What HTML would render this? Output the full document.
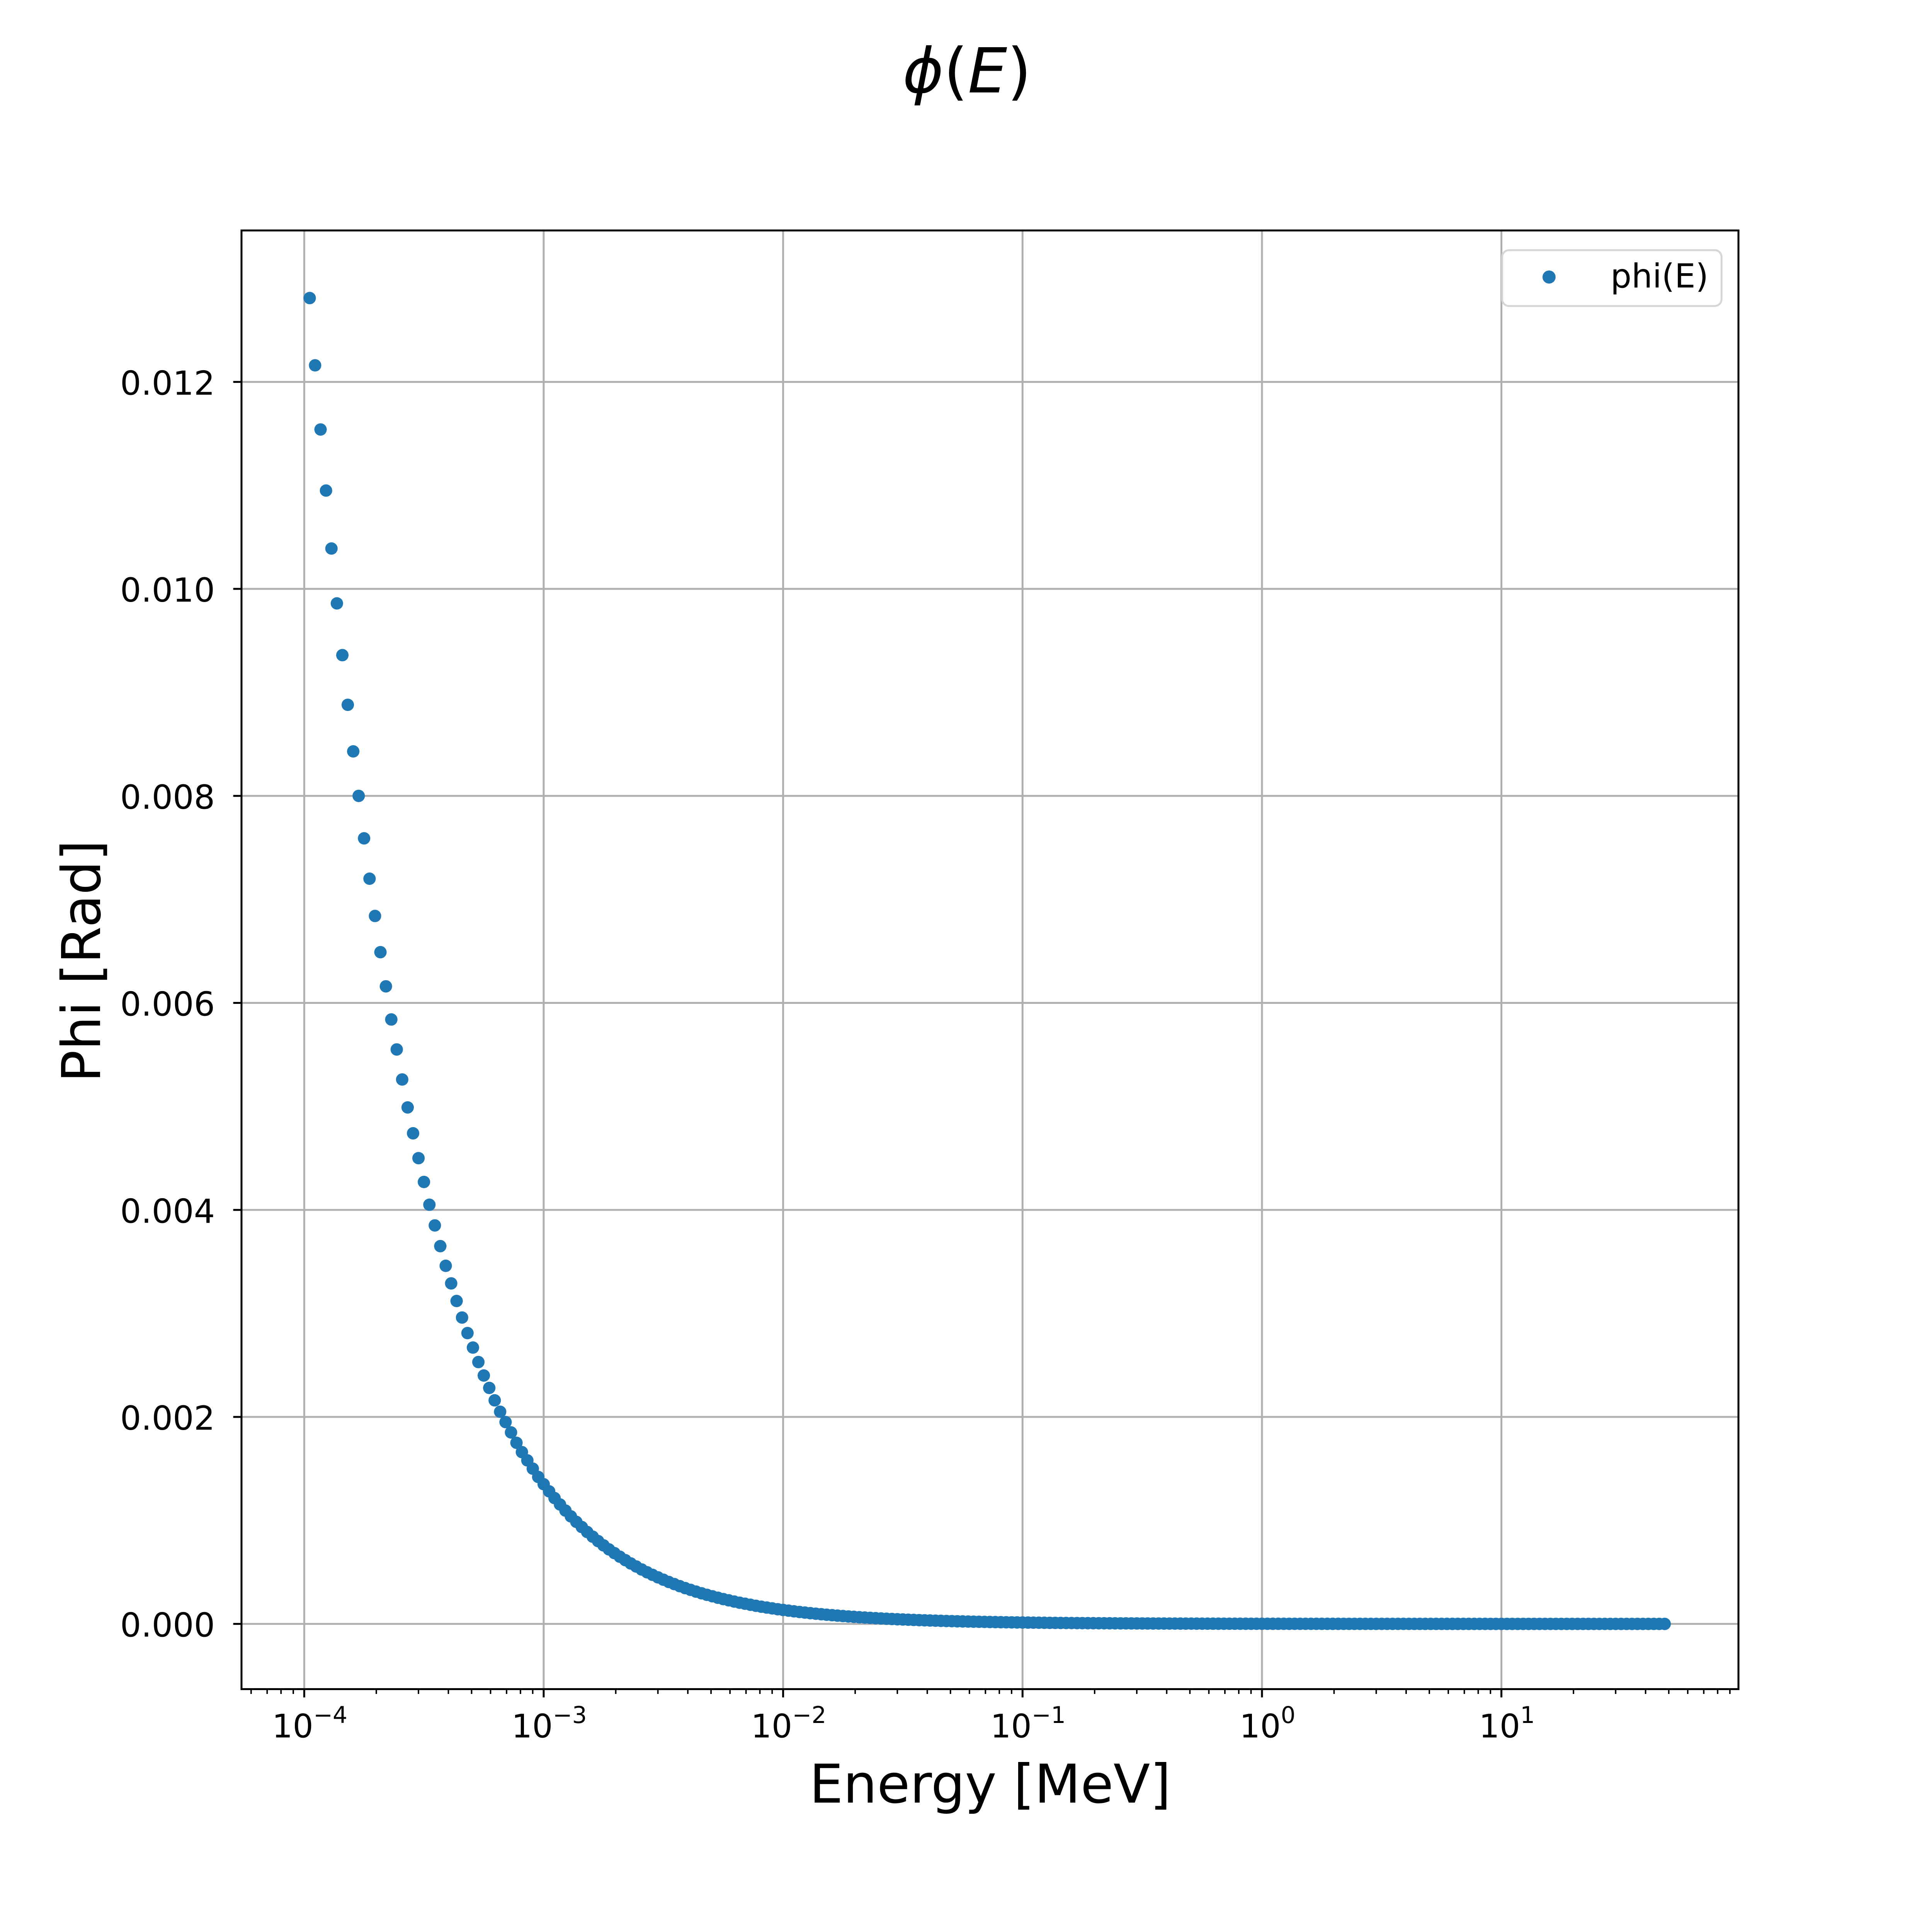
<!DOCTYPE html>
<html><head><meta charset="utf-8">
<style>
html,body{margin:0;padding:0;background:#fff;overflow:hidden;width:100%;height:100%;}
svg{display:block;position:fixed;left:0;top:0;width:100vw;height:100vh;font-family:"DejaVu Sans","Liberation Sans",sans-serif;}
</style></head>
<body>
<svg id="chart" viewBox="0 0 5600 5600" preserveAspectRatio="none" xmlns="http://www.w3.org/2000/svg">
<rect width="5600" height="5600" fill="#fff"/>
<text x="2803" y="268" font-size="180" text-anchor="middle"><tspan font-style="italic">ϕ</tspan>(<tspan font-style="italic">E</tspan>)</text>
<g id="grid"></g>
<g id="points"></g>
<g id="axes"></g>
<text x="2870" y="5225" font-size="155" text-anchor="middle">Energy [MeV]</text>
<text x="0" y="0" font-size="155" text-anchor="middle" transform="translate(290,2786) rotate(-90)">Phi [Rad]</text>
<g>
<rect x="4354" y="725" width="636" height="162" rx="20" fill="#fff" fill-opacity="0.8" stroke="#d6d6d6" stroke-width="5.6"/>
<circle cx="4490" cy="803" r="19" fill="#1f77b4"/>
<text x="4668" y="833" font-size="96">phi(E)</text>
</g>
</svg>
<script>
const energy = [
1.054e-4,1.110e-4,1.170e-4,1.233e-4,1.299e-4,1.369e-4,1.443e-4,1.520e-4,1.602e-4,1.688e-4,1.778e-4,1.874e-4,1.975e-4,2.081e-4,2.193e-4,2.310e-4,2.434e-4,2.565e-4,2.703e-4,2.848e-4,3.001e-4,3.162e-4,3.332e-4,3.511e-4,3.700e-4,3.899e-4,4.108e-4,4.329e-4,4.562e-4,4.806e-4,5.065e-4,5.337e-4,5.623e-4,5.926e-4,6.244e-4,6.579e-4,6.933e-4,7.305e-4,7.698e-4,8.111e-4,8.547e-4,9.006e-4,9.490e-4,
1.000e-3,1.054e-3,1.110e-3,1.170e-3,1.233e-3,1.299e-3,1.369e-3,1.443e-3,1.520e-3,1.602e-3,1.688e-3,1.778e-3,1.874e-3,1.975e-3,2.081e-3,2.193e-3,2.310e-3,2.434e-3,2.565e-3,2.703e-3,2.848e-3,3.001e-3,3.162e-3,3.332e-3,3.511e-3,3.700e-3,3.899e-3,4.108e-3,4.329e-3,4.562e-3,4.806e-3,5.065e-3,5.337e-3,5.623e-3,5.926e-3,6.244e-3,6.579e-3,6.933e-3,7.305e-3,7.698e-3,8.111e-3,8.547e-3,9.006e-3,9.490e-3,
1.000e-2,1.054e-2,1.110e-2,1.170e-2,1.233e-2,1.299e-2,1.369e-2,1.443e-2,1.520e-2,1.602e-2,1.688e-2,1.778e-2,1.874e-2,1.975e-2,2.081e-2,2.193e-2,2.310e-2,2.434e-2,2.565e-2,2.703e-2,2.848e-2,3.001e-2,3.162e-2,3.332e-2,3.511e-2,3.700e-2,3.899e-2,4.108e-2,4.329e-2,4.562e-2,4.806e-2,5.065e-2,5.337e-2,5.623e-2,5.926e-2,6.244e-2,6.579e-2,6.933e-2,7.305e-2,7.698e-2,8.111e-2,8.547e-2,9.006e-2,9.490e-2,
1.000e-1,1.054e-1,1.110e-1,1.170e-1,1.233e-1,1.299e-1,1.369e-1,1.443e-1,1.520e-1,1.602e-1,1.688e-1,1.778e-1,1.874e-1,1.975e-1,2.081e-1,2.193e-1,2.310e-1,2.434e-1,2.565e-1,2.703e-1,2.848e-1,3.001e-1,3.162e-1,3.332e-1,3.511e-1,3.700e-1,3.899e-1,4.108e-1,4.329e-1,4.562e-1,4.806e-1,5.065e-1,5.337e-1,5.623e-1,5.926e-1,6.244e-1,6.579e-1,6.933e-1,7.305e-1,7.698e-1,8.111e-1,8.547e-1,9.006e-1,9.490e-1,
1.000,1.054,1.110,1.170,1.233,1.299,1.369,1.443,1.520,1.602,1.688,1.778,1.874,1.975,2.081,2.193,2.310,2.434,2.565,2.703,2.848,3.001,3.162,3.332,3.511,3.700,3.899,4.108,4.329,4.562,4.806,5.065,5.337,5.623,5.926,6.244,6.579,6.933,7.305,7.698,8.111,8.547,9.006,9.490,
10.00,10.54,11.10,11.70,12.33,12.99,13.69,14.43,15.20,16.02,16.88,17.78,18.74,19.75,20.81,21.93,23.10,24.34,25.65,27.03,28.48,30.01,31.62,33.32,35.11,37.00,38.99,41.08,43.29,45.62,48.06
];
const phi = [
1.281e-2,1.216e-2,1.154e-2,1.095e-2,1.039e-2,0.986e-2,0.936e-2,0.888e-2,0.843e-2,0.800e-2,0.759e-2,0.720e-2,0.684e-2,0.649e-2,0.616e-2,0.584e-2,0.555e-2,0.526e-2,0.499e-2,0.474e-2,0.450e-2,0.427e-2,0.405e-2,0.385e-2,0.365e-2,0.346e-2,0.329e-2,0.312e-2,0.296e-2,0.281e-2,0.267e-2,0.253e-2,0.240e-2,0.228e-2,0.216e-2,0.205e-2,0.195e-2,0.185e-2,0.175e-2,0.166e-2,0.158e-2,0.150e-2,0.142e-2,
1.350e-3,1.281e-3,1.216e-3,1.154e-3,1.095e-3,1.039e-3,0.986e-3,0.936e-3,0.888e-3,0.843e-3,0.800e-3,0.759e-3,0.720e-3,0.684e-3,0.649e-3,0.616e-3,0.584e-3,0.555e-3,0.526e-3,0.499e-3,0.474e-3,0.450e-3,0.427e-3,0.405e-3,0.385e-3,0.365e-3,0.346e-3,0.329e-3,0.312e-3,0.296e-3,0.281e-3,0.267e-3,0.253e-3,0.240e-3,0.228e-3,0.216e-3,0.205e-3,0.195e-3,0.185e-3,0.175e-3,0.166e-3,0.158e-3,0.150e-3,0.142e-3,
1.350e-4,1.281e-4,1.216e-4,1.154e-4,1.095e-4,1.039e-4,0.986e-4,0.936e-4,0.888e-4,0.843e-4,0.800e-4,0.759e-4,0.720e-4,0.684e-4,0.649e-4,0.616e-4,0.584e-4,0.555e-4,0.526e-4,0.499e-4,0.474e-4,0.450e-4,0.427e-4,0.405e-4,0.385e-4,0.365e-4,0.346e-4,0.329e-4,0.312e-4,0.296e-4,0.281e-4,0.267e-4,0.253e-4,0.240e-4,0.228e-4,0.216e-4,0.205e-4,0.195e-4,0.185e-4,0.175e-4,0.166e-4,0.158e-4,0.150e-4,0.142e-4,
1.350e-5,1.281e-5,1.216e-5,1.154e-5,1.095e-5,1.039e-5,0.986e-5,0.936e-5,0.888e-5,0.843e-5,0.800e-5,0.759e-5,0.720e-5,0.684e-5,0.649e-5,0.616e-5,0.584e-5,0.555e-5,0.526e-5,0.499e-5,0.474e-5,0.450e-5,0.427e-5,0.405e-5,0.385e-5,0.365e-5,0.346e-5,0.329e-5,0.312e-5,0.296e-5,0.281e-5,0.267e-5,0.253e-5,0.240e-5,0.228e-5,0.216e-5,0.205e-5,0.195e-5,0.185e-5,0.175e-5,0.166e-5,0.158e-5,0.150e-5,0.142e-5,
1.350e-6,1.281e-6,1.216e-6,1.154e-6,1.095e-6,1.039e-6,0.986e-6,0.936e-6,0.888e-6,0.843e-6,0.800e-6,0.759e-6,0.720e-6,0.684e-6,0.649e-6,0.616e-6,0.584e-6,0.555e-6,0.526e-6,0.499e-6,0.474e-6,0.450e-6,0.427e-6,0.405e-6,0.385e-6,0.365e-6,0.346e-6,0.329e-6,0.312e-6,0.296e-6,0.281e-6,0.267e-6,0.253e-6,0.240e-6,0.228e-6,0.216e-6,0.205e-6,0.195e-6,0.185e-6,0.175e-6,0.166e-6,0.158e-6,0.150e-6,0.142e-6,
1.350e-7,1.281e-7,1.216e-7,1.154e-7,1.095e-7,1.039e-7,0.986e-7,0.936e-7,0.888e-7,0.843e-7,0.800e-7,0.759e-7,0.720e-7,0.684e-7,0.649e-7,0.616e-7,0.584e-7,0.555e-7,0.526e-7,0.499e-7,0.474e-7,0.450e-7,0.427e-7,0.405e-7,0.385e-7,0.365e-7,0.346e-7,0.329e-7,0.312e-7,0.296e-7,0.281e-7
];
const xTickExponents = [-4,-3,-2,-1,0,1];
const xTickSuperscripts = ["−4","−3","−2","−1","0","1"];
const yTickValues = [0,0.002,0.004,0.006,0.008,0.010,0.012];
const yTickLabels = ["0.000","0.002","0.004","0.006","0.008","0.010","0.012"];

const NS = "http://www.w3.org/2000/svg";
const L = 700, R = 5039, T = 668, B = 4896;
const logMin = -4.262, logMax = 1.990;
const yMin = -0.00063, yMax = 0.013463;
function xs(v){ return L + (Math.log10(v) - logMin) / (logMax - logMin) * (R - L); }
function ys(v){ return B - (v - yMin) / (yMax - yMin) * (B - T); }
function mk(tag, attrs, parent){ const e = document.createElementNS(NS, tag); for (const k in attrs) e.setAttribute(k, attrs[k]); parent.appendChild(e); return e; }

const grid = document.getElementById('grid');
const axes = document.getElementById('axes');
const pts = document.getElementById('points');

xTickExponents.forEach((ex, i) => {
  const x = xs(Math.pow(10, ex));
  const g = mk('line', {x1:x, x2:x, y1:T, y2:B, stroke:'#b0b0b0', 'stroke-width':5.6}, grid);
  
  
  const t = mk('line', {x1:x, x2:x, y1:B, y2:B+24, stroke:'#000', 'stroke-width':5.6}, axes);
  
  
  const tx = mk('text', {x:x+16, y:B+140, 'font-size':94, 'text-anchor':'middle'}, axes);
  
  
  tx.textContent = '10';
  const sup = mk('tspan', {dy:-42, 'font-size':67}, tx);
  sup.textContent = xTickSuperscripts[i];
});
for (let ex = -5; ex <= 1; ex++) {
  for (let m = 2; m <= 9; m++) {
    const v = m * Math.pow(10, ex);
    const lv = Math.log10(v);
    if (lv < logMin || lv > logMax) continue;
    const x = xs(v);
    const t = mk('line', {x1:x, x2:x, y1:B, y2:B+14, stroke:'#000', 'stroke-width':4.2}, axes);
    
    
  }
}
yTickValues.forEach((v, i) => {
  const y = ys(v);
  const g = mk('line', {x1:L, x2:R, y1:y, y2:y, stroke:'#b0b0b0', 'stroke-width':5.6}, grid);
  
  
  const t = mk('line', {x1:L-24, x2:L, y1:y, y2:y, stroke:'#000', 'stroke-width':5.6}, axes);
  
  
  const tx = mk('text', {x:623, y:y+37, 'font-size':96, 'text-anchor':'end'}, axes);
  
  
  tx.textContent = yTickLabels[i];
});
const frame = mk('rect', {x:L, y:T, width:R-L, height:B-T, fill:'none', stroke:'#000', 'stroke-width':5.6}, axes);



energy.forEach((e, i) => {
  const c = mk('circle', {cx:xs(e), cy:ys(phi[i]), r:18, fill:'#1f77b4'}, pts);
  
  
});
</script>
</body></html>
